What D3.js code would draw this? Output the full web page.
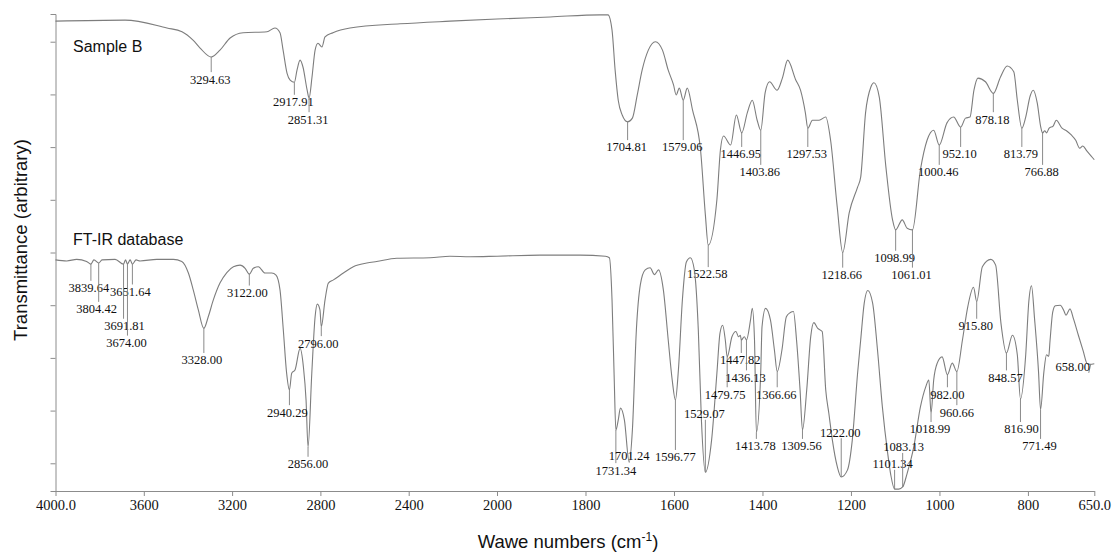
<!DOCTYPE html>
<html>
<head>
<meta charset="utf-8">
<script src="https://cdn.jsdelivr.net/npm/d3@7/dist/d3.min.js"></script>
<style>
  body { margin: 0; background: #fff; }
  .axis path, .axis line { stroke: #8c8c8c; }
  .axis text { font-family: "Liberation Serif", "Times New Roman", serif; font-size: 14.5px; fill: #111; }
</style>
</head>
<body>
<svg id="chart" width="1117" height="556"></svg>
<script>
// spectra: [wavenumber cm-1, transmittance (arbitrary units)]
const sampleB = [
  [4000, 8.39], [3685, 8.41], [3495, 8.26], [3427, 8.19], [3377, 8.03], [3345, 7.88],
  [3294.63, 7.71], [3255, 7.84], [3209, 8.07], [3150, 8.17], [3042, 8.19], [3006, 8.26],
  [2983, 8.17], [2969, 7.84], [2951, 7.40], [2937, 7.27], [2917.91, 7.23], [2906, 7.46],
  [2892, 7.65], [2879, 7.52], [2860, 7.08], [2851.31, 6.93], [2838, 7.33], [2824, 7.84],
  [2811, 7.97], [2793, 7.90], [2779, 8.09], [2743, 8.17], [2666, 8.26], [2439, 8.34],
  [2213, 8.39], [2000, 8.43], [1880, 8.47], [1767, 8.51], [1749, 8.51], [1740, 8.22],
  [1733, 7.46], [1726, 6.89], [1717, 6.61], [1704.81, 6.48], [1694, 6.55], [1683, 6.99],
  [1672, 7.46], [1658, 7.84], [1642, 8.0], [1626, 7.84], [1613, 7.46], [1601, 7.18],
  [1595, 6.99], [1588, 7.12], [1579.06, 6.89], [1570, 7.12], [1558, 6.70], [1540, 5.95],
  [1529, 4.71], [1522.58, 4.14], [1503, 5.0], [1495, 5.95], [1488, 6.21], [1472, 6.04],
  [1459, 6.61], [1446.95, 6.27], [1434, 6.66], [1423, 6.89], [1412, 6.51], [1403.86, 6.32],
  [1394, 7.03], [1384, 7.24], [1367, 7.08], [1355, 7.31], [1343, 7.65], [1325, 7.28],
  [1314, 7.08], [1303, 6.65], [1297.53, 6.36], [1287, 6.51], [1272, 6.51], [1257, 6.57],
  [1246, 6.13], [1231, 4.86], [1218.66, 4.0], [1204, 4.75], [1185, 5.24], [1178, 5.43],
  [1167, 6.65], [1155, 7.14], [1148, 7.22], [1136, 6.95], [1121, 5.62], [1106, 4.62],
  [1098.99, 4.43], [1084, 4.62], [1073, 4.46], [1061.01, 4.43], [1043, 5.57], [1028, 6.13],
  [1013, 6.32], [1000.46, 6.04], [983, 6.46], [968, 6.57], [952.10, 6.38], [941, 6.55],
  [931, 6.57], [922, 7.08], [913, 7.31], [896, 7.24], [878.18, 7.02], [862, 7.33],
  [847, 7.54], [832, 7.43], [824, 6.89], [813.79, 6.36], [805, 6.57], [795, 6.97],
  [788, 7.08], [779, 6.84], [771, 6.38], [766.88, 6.27], [762, 6.31], [758, 6.27],
  [752, 6.36], [743, 6.40], [736, 6.51], [723, 6.36], [713, 6.31], [702, 6.23],
  [692, 6.13], [683, 5.98], [676, 6.02], [667, 5.93], [657, 5.83], [650, 5.76]
];

const database = [
  [4000, 3.86], [3949, 3.84], [3904, 3.87], [3859, 3.83], [3839.64, 3.78], [3826, 3.86],
  [3804.42, 3.80], [3789, 3.86], [3730, 3.87], [3691.81, 3.78], [3683, 3.86], [3674, 3.78],
  [3662, 3.86], [3651.64, 3.78], [3635, 3.86], [3617, 3.84], [3541, 3.87], [3466, 3.87],
  [3428, 3.83], [3398, 3.61], [3376, 3.29], [3353, 2.91], [3328, 2.56], [3308, 2.78],
  [3285, 3.10], [3255, 3.42], [3224, 3.62], [3194, 3.73], [3164, 3.76], [3141, 3.70],
  [3122, 3.59], [3104, 3.70], [3081, 3.73], [3051, 3.61], [3020, 3.61], [3001, 3.57],
  [2983, 3.29], [2968, 2.53], [2953, 1.71], [2940.29, 1.39], [2930, 1.71], [2915, 1.77],
  [2892, 2.18], [2877, 1.83], [2865, 1.20], [2856, 0.31], [2839, 1.71], [2824, 2.78],
  [2814, 3.02], [2802, 2.91], [2796, 2.59], [2779, 3.10], [2764, 3.42], [2741, 3.48],
  [2696, 3.61], [2651, 3.73], [2590, 3.80], [2545, 3.83], [2454, 3.89], [2303, 3.90],
  [2213, 3.93], [2122, 3.92], [2000, 3.93], [1903, 3.95], [1812, 3.95], [1755, 3.93],
  [1746, 3.90], [1740, 3.10], [1735, 1.58], [1731.34, 0.63], [1726, 0.82], [1721, 1.05],
  [1712, 0.82], [1701.24, 0.02], [1694, 0.63], [1685, 2.53], [1676, 3.39], [1665, 3.67],
  [1654, 3.71], [1644, 3.58], [1635, 3.67], [1624, 3.29], [1613, 2.34], [1604, 1.58],
  [1596.77, 1.20], [1590, 1.77], [1581, 3.10], [1572, 3.82], [1563, 3.90], [1554, 3.67],
  [1545, 2.53], [1538, 0.82], [1529.07, -0.17], [1515, 0.44], [1503, 1.71], [1496, 2.47],
  [1490, 2.62], [1484, 2.34], [1479.75, 2.02], [1469, 2.40], [1460, 2.50], [1454, 2.40],
  [1450, 2.43], [1447.82, 2.34], [1441, 2.40], [1436.13, 2.34], [1427, 2.72], [1423, 2.94],
  [1418, 2.34], [1413.78, 0.59], [1404, 1.71], [1401, 2.59], [1393, 2.94], [1382, 2.72],
  [1373, 2.15], [1366.66, 1.74], [1356, 2.15], [1346, 2.78], [1337, 2.86], [1330, 2.88],
  [1323, 2.34], [1315, 1.39], [1309.56, 0.63], [1300, 1.39], [1291, 2.40], [1284, 2.67],
  [1275, 2.56], [1265, 2.50], [1257, 1.39], [1250, 0.95], [1242, 0.44], [1231, -0.06],
  [1222, -0.26], [1208, -0.13], [1197, 0.44], [1185, 1.71], [1178, 2.34], [1170, 3.04],
  [1162, 3.28], [1151, 3.04], [1140, 2.15], [1129, 1.07], [1117, 0.19], [1110, -0.22],
  [1101.34, -0.49], [1092, -0.49], [1083.13, -0.45], [1073, -0.19], [1058, 0.31], [1043, 1.07],
  [1031, 1.45], [1024, 1.58], [1018.99, 0.95], [1013, 1.58], [1005, 1.90], [994, 2.02],
  [982, 1.68], [971, 1.90], [960.66, 1.74], [948, 2.34], [936, 2.97], [923, 3.34],
  [915.8, 3.07], [903, 3.73], [884, 3.87], [873, 3.76], [861, 2.66], [848.57, 2.09],
  [835, 2.43], [824, 2.06], [816.9, 1.22], [805, 2.06], [798, 3.07], [792, 3.37],
  [785, 2.74], [776, 1.73], [771.49, 1.02], [764, 1.73], [758, 2.06], [753, 2.03],
  [750, 2.33], [744, 2.87], [738, 2.99], [727, 3.00], [719, 2.90], [714, 2.81],
  [705, 2.93], [697, 2.74], [686, 2.43], [675, 2.13], [666, 1.89], [660, 1.88], [650, 1.89]
];

// peak annotations: [wavenumber, label level (same units as spectrum), horizontal shift]
const samplePeaks = [
  [3294.63, 7.29, -1], [2917.91, 6.86, -1], [2851.31, 6.53, -1], [1704.81, 6.0, -1],
  [1579.06, 6.0, -1], [1522.58, 3.59, -1], [1446.95, 5.87, -1], [1403.86, 5.53, -1],
  [1297.53, 5.87, -1], [1218.66, 3.58, -1], [1098.99, 3.90, -1], [1061.01, 3.58, -1],
  [1000.46, 5.53, -1], [952.10, 5.87, -1], [878.18, 6.53, -1], [813.79, 5.87, -1],
  [766.88, 5.53, -1]
];
const databasePeaks = [
  [3839.64, 3.33, -2], [3804.42, 2.93, -2], [3651.64, 3.26, -2], [3691.81, 2.61, 1],
  [3674.00, 2.29, -1], [3328.00, 1.96, -2], [3122.00, 3.24, -2], [2940.29, 0.97, -2],
  [2856.00, -0.01, 0], [2796.00, 2.28, -3], [1731.34, -0.13, 0], [1701.24, 0.14, 0],
  [1596.77, 0.12, 0], [1529.07, 0.94, -1], [1479.75, 1.31, -2], [1447.82, 1.96, -1],
  [1436.13, 1.63, -1], [1413.78, 0.33, -1], [1366.66, 1.31, -1], [1309.56, 0.33, -1],
  [1222.00, 0.59, -1], [1101.34, -0.01, -2], [1083.13, 0.31, 1], [1018.99, 0.65, -1],
  [982.00, 1.31, 0], [960.66, 0.97, 0], [915.80, 2.61, -1], [848.57, 1.63, -1],
  [816.90, 0.65, 1], [771.49, 0.33, -1], [658.00, 1.83, -18]
];

const xTicks = [4000, 3600, 3200, 2800, 2400, 2000, 1800, 1600, 1400, 1200, 1000, 800, 650];
const yTicks = [0, 1, 2, 3, 4, 5, 6, 7, 8];

const svg = d3.select("#chart");
const lineColor = "#7d7d7d";

// axis is compressed above 2000 cm-1 (2x scale change)
const x = d3.scaleLinear().domain([4000, 2000, 650]).range([55.5, 497, 1094.3]);
const y = d3.scaleLinear().domain([-0.526, 8.526]).range([491, 14]);

svg.append("g")
  .attr("class", "axis")
  .attr("transform", "translate(0,491)")
  .call(d3.axisBottom(x).tickValues(xTicks).tickSize(5).tickSizeOuter(0).tickPadding(4)
    .tickFormat(d => (d === 4000 || d === 650) ? d.toFixed(1) : d));

svg.append("g")
  .attr("class", "axis")
  .attr("transform", "translate(55.5,0)")
  .call(d3.axisLeft(y).tickValues(yTicks).tickSize(5).tickSizeOuter(5).tickFormat(""));

const line = d3.line()
  .x(d => x(d[0]))
  .y(d => y(d[1]))
  .curve(d3.curveMonotoneX);

function valueAt(data, wn) {
  // data sorted by decreasing wavenumber
  for (let i = 0; i < data.length - 1; i++) {
    const a = data[i], b = data[i + 1];
    if (wn <= a[0] && wn >= b[0]) {
      const t = (a[0] - wn) / (a[0] - b[0]);
      return a[1] + t * (b[1] - a[1]);
    }
  }
  return data[data.length - 1][1];
}

function drawSpectrum(data, peaks) {
  const g = svg.append("g");
  g.append("path")
    .datum(data)
    .attr("d", line)
    .attr("fill", "none")
    .attr("stroke", lineColor)
    .attr("stroke-width", 1.1);

  peaks.forEach(([wn, level, dx]) => {
    const px = x(wn);
    const py = y(valueAt(data, wn));
    const ly = y(level);
    const below = ly > py;
    const tx = px + dx;
    if (Math.abs(dx) > 6) {
      // slanted leader to a shifted label
      g.append("line")
        .attr("x1", px).attr("y1", py)
        .attr("x2", tx + 16).attr("y2", ly + 6)
        .attr("stroke", lineColor).attr("stroke-width", 0.9);
    } else {
      g.append("line")
        .attr("x1", px).attr("y1", py)
        .attr("x2", px).attr("y2", below ? ly - 7 : ly + 6)
        .attr("stroke", lineColor).attr("stroke-width", 0.9);
    }
    g.append("text")
      .attr("x", tx)
      .attr("y", ly)
      .attr("dy", "0.35em")
      .attr("text-anchor", "middle")
      .style("font-family", "'Liberation Serif', 'Times New Roman', serif")
      .style("font-size", "12.5px")
      .style("fill", "#111")
      .text(wn.toFixed(2));
  });
}

drawSpectrum(sampleB, samplePeaks);
drawSpectrum(database, databasePeaks);

const sans = "'Liberation Sans', Arial, sans-serif";
svg.append("text").attr("x", 73).attr("y", 52)
  .style("font-family", sans).style("font-size", "16px").style("fill", "#111")
  .text("Sample B");
svg.append("text").attr("x", 73).attr("y", 245)
  .style("font-family", sans).style("font-size", "16px").style("fill", "#111")
  .text("FT-IR database");

svg.append("text")
  .attr("transform", "translate(27,240) rotate(-90)")
  .attr("text-anchor", "middle")
  .style("font-family", sans).style("font-size", "18.5px").style("fill", "#111")
  .text("Transmittance (arbitrary)");

const xt = svg.append("text")
  .attr("x", 568).attr("y", 548)
  .attr("text-anchor", "middle")
  .style("font-family", sans).style("font-size", "18.5px").style("fill", "#111");
xt.append("tspan").text("Wawe numbers (cm");
xt.append("tspan").attr("dy", -7).style("font-size", "12px").text("-1");
xt.append("tspan").attr("dy", 7).text(")");
</script>
</body>
</html>
